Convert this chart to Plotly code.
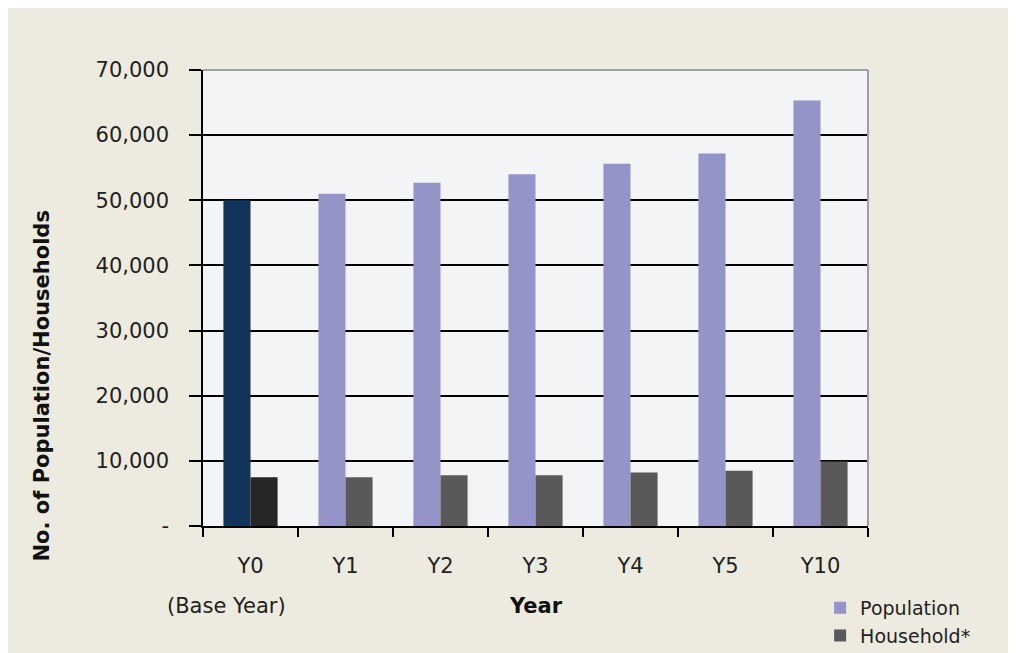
import plotly.graph_objects as go

# data
years = ["Y0", "Y1", "Y2", "Y3", "Y4", "Y5", "Y10"]
population = [50000, 51000, 52700, 54000, 55600, 57200, 65300]
households = [7500, 7500, 7800, 7800, 8200, 8500, 9900]
y_ticks = [0, 10000, 20000, 30000, 40000, 50000, 60000, 70000]
y_tick_text = ["-", "10,000", "20,000", "30,000", "40,000", "50,000", "60,000", "70,000"]

FONT = "DejaVu Sans"
BEIGE = "#EDEBDF"

fig = go.Figure()
# later years, shown in the legend
fig.add_trace(go.Bar(name="Population", x=years[1:], y=population[1:],
                     offsetgroup="pop", marker=dict(color="#9594C8", line=dict(width=0))))
fig.add_trace(go.Bar(name="Household*", x=years[1:], y=households[1:],
                     offsetgroup="hh", marker=dict(color="#595959", line=dict(width=0))))
# base year is drawn darker
fig.add_trace(go.Bar(name="Population", x=years[:1], y=population[:1], showlegend=False,
                     offsetgroup="pop", marker=dict(color="#12335A", line=dict(width=0))))
fig.add_trace(go.Bar(name="Household*", x=years[:1], y=households[:1], showlegend=False,
                     offsetgroup="hh", marker=dict(color="#262626", line=dict(width=0))))

# page has an 8px body margin, so the figure is sized to leave the white edge
fig.update_layout(
    width=1004, height=645,
    margin=dict(l=195, r=144, t=62, b=127, autoexpand=False),
    paper_bgcolor=BEIGE,
    plot_bgcolor="#F3F4F6",
    barmode="group", bargap=0.43, bargroupgap=0,
    font=dict(family=FONT, size=21, color="#222222"),
    showlegend=True,
    legend=dict(x=0.928, xanchor="left", y=-0.138, yanchor="top",
                bgcolor="rgba(0,0,0,0)", font=dict(size=19),
                tracegroupgap=0, itemwidth=30),
    shapes=[
        # grey top and right border
        dict(type="line", xref="paper", yref="paper", layer="above",
             x0=0, x1=1, y0=1, y1=1, line=dict(color="#A0A0A0", width=2)),
        dict(type="line", xref="paper", yref="paper", layer="above",
             x0=1, x1=1, y0=0, y1=1, line=dict(color="#A0A0A0", width=2)),
    ],
    annotations=[
        dict(text="<b>No. of Population/Households</b>", textangle=-90,
             xref="paper", yref="paper", x=-0.242, y=0.306,
             xanchor="center", yanchor="middle",
             showarrow=False, font=dict(size=21, color="#111111")),
        dict(text="<b>Year</b>", xref="paper", yref="paper", x=0.5,
             y=-0.175, xanchor="center", yanchor="middle", showarrow=False,
             font=dict(size=21, color="#111111")),
        dict(text="(Base Year)", xref="x", yref="paper", x="Y0", xshift=-24,
             y=-0.175, xanchor="center", yanchor="middle", showarrow=False,
             font=dict(size=21)),
    ],
)

fig.update_xaxes(
    categoryorder="array", categoryarray=years,
    range=[-0.5, len(years) - 0.5],
    showline=True, linecolor="black", linewidth=1.5,
    ticks="outside", tickson="boundaries", ticklen=9, tickcolor="black",
    tickwidth=1.5, ticklabelstandoff=20, showgrid=False,
)
fig.update_yaxes(
    range=[0, 70000], tickvals=y_ticks, ticktext=y_tick_text,
    showline=True, linecolor="black", linewidth=1.5,
    ticks="outside", ticklen=12, tickcolor="black", tickwidth=1.5,
    ticklabelstandoff=16,
    showgrid=True, gridcolor="black", gridwidth=1.5, zeroline=False,
)

fig.write_html("out.html")
